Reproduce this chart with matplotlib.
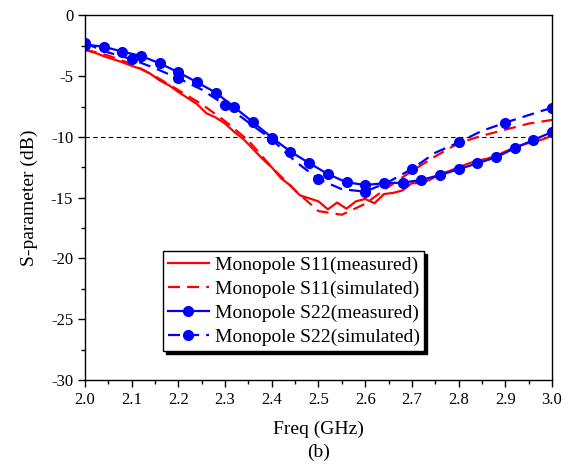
import numpy as np
import matplotlib
matplotlib.use("Agg")
import matplotlib.pyplot as plt
from matplotlib.ticker import MultipleLocator

# S11 measured (noisy trace, 0.02 GHz step)
f_s11_meas = np.round(np.arange(2.0, 3.0001, 0.02), 3)
s11_meas = [-2.85, -3.05, -3.35, -3.6, -3.85, -4.15, -4.4, -4.8, -5.35, -5.75,
            -6.3, -6.8, -7.3, -8.05, -8.4, -8.9, -9.6, -10.2, -11.0, -11.8,
            -12.5, -13.4, -14.0, -14.8, -15.05, -15.3, -15.95, -15.4, -15.9, -15.3,
            -15.1, -15.45, -14.7, -14.6, -14.4, -13.8, -13.8, -13.5, -13.05, -12.8,
            -12.5, -12.2, -11.95, -11.8, -11.55, -11.2, -10.85, -10.6, -10.4, -10.2,
            -9.9]

# S11 simulated (0.05 GHz step)
f_s11_sim = np.round(np.arange(2.0, 3.0001, 0.05), 3)
s11_sim = [-2.8, -3.3, -4.0, -5.0, -6.15, -7.3, -8.7, -10.3, -12.5, -14.4,
           -16.1, -16.4, -15.5, -14.1, -12.8, -11.6, -10.5, -9.9, -9.4, -8.9,
           -8.6]

# S22 measured (0.04 GHz step)
f_s22_meas = np.round(np.arange(2.0, 3.0001, 0.04), 3)
s22_meas = [-2.4, -2.57, -2.98, -3.33, -3.94, -4.68, -5.5, -6.35, -7.56, -8.79,
            -10.05, -11.2, -12.15, -13.05, -13.73, -13.95, -13.81, -13.76, -13.54, -13.13,
            -12.66, -12.17, -11.67, -10.93, -10.25, -9.6]

# S22 simulated (0.05 GHz step, marker every 0.1 GHz)
f_s22_sim = np.round(np.arange(2.0, 3.0001, 0.05), 3)
s22_sim = [-2.3, -3.05, -3.6, -4.35, -5.17, -6.1, -7.37, -8.8, -10.2, -12.0,
           -13.46, -14.3, -14.5, -13.7, -12.63, -11.3, -10.44, -9.5, -8.82, -8.2,
           -7.59]

plt.rcParams["font.family"] = ["Liberation Serif", "DejaVu Serif"]
plt.rcParams["axes.unicode_minus"] = False

fig = plt.figure(figsize=(5.72, 4.68), dpi=100)
ax = fig.add_axes([0.1486, 0.188, 0.8164, 0.779])

dash = (5.4, 3.2)
ax.plot(f_s11_meas, s11_meas, color="red", lw=1.6, label="Monopole S11(measured)")
ax.plot(f_s11_sim, s11_sim, color="red", lw=1.6, dashes=dash, label="Monopole S11(simulated)")
ax.plot(f_s22_meas, s22_meas, color="blue", lw=1.6, marker="o", ms=7,
        label="Monopole S22(measured)")
ax.plot(f_s22_sim, s22_sim, color="blue", lw=1.6, dashes=dash, marker="o", ms=7,
        markevery=2, label="Monopole S22(simulated)")
ax.axhline(-10, color="black", lw=0.8, dashes=(4, 3), zorder=1)

ax.set_xlim(2.0, 3.0)
ax.set_ylim(-30, 0)
ax.xaxis.set_major_locator(MultipleLocator(0.1))
ax.xaxis.set_minor_locator(MultipleLocator(0.05))
ax.yaxis.set_major_locator(MultipleLocator(5))
ax.yaxis.set_minor_locator(MultipleLocator(2.5))
ax.xaxis.set_major_formatter(plt.FormatStrFormatter("%.1f"))
ax.tick_params(which="both", direction="out", labelsize=12, width=1)
ax.tick_params(which="major", length=5)
ax.tick_params(which="minor", length=3)
for s in ax.spines.values():
    s.set_linewidth(1)

ax.set_xlabel("Freq (GHz)", fontsize=14, labelpad=9)
ax.set_ylabel("S-parameter (dB)", fontsize=14, labelpad=9)
fig.text(0.5 * (0.1486 + 0.965), 0.033, "(b)", ha="center", va="center", fontsize=14)

leg = ax.legend(loc="lower left", bbox_to_anchor=(0.167, 0.08), fontsize=14,
                fancybox=False, edgecolor="black", framealpha=1,
                shadow={"color": "black", "alpha": 1},
                handlelength=2.1, handletextpad=0.3, borderpad=0.25,
                labelspacing=0.33, borderaxespad=0)
leg.get_frame().set_linewidth(1)

fig.savefig("out.png", dpi=100)
